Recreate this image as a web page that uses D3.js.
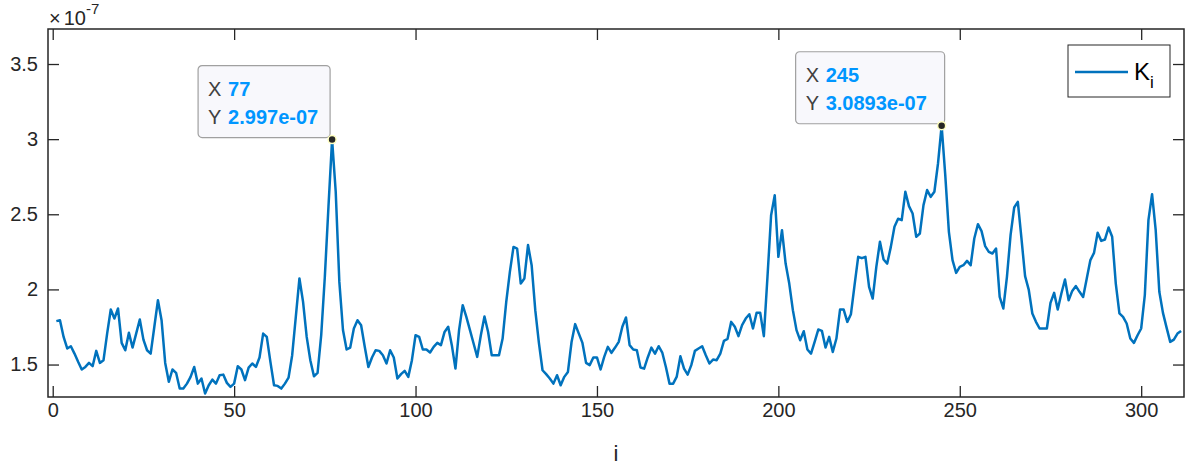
<!DOCTYPE html>
<html>
<head>
<meta charset="utf-8">
<script src="https://cdn.jsdelivr.net/npm/d3@7"></script>
<style>
  body { margin: 0; background: #fff; }
  text { font-family: "Liberation Sans", Arial, Helvetica, sans-serif; }
</style>
</head>
<body>
<svg id="chart" width="1192" height="468"></svg>
<script>
// K_i values, in units of 1e-7, for i = 1..311
const values = [
  1.789, 1.795, 1.684, 1.607, 1.622, 1.573, 1.518, 1.467, 1.484, 1.511,
  1.489, 1.591, 1.511, 1.529, 1.706, 1.866, 1.806, 1.873, 1.644, 1.595,
  1.711, 1.613, 1.706, 1.800, 1.666, 1.595, 1.573, 1.750, 1.928, 1.795,
  1.511, 1.385, 1.467, 1.445, 1.340, 1.340, 1.373, 1.418, 1.484, 1.373,
  1.407, 1.307, 1.362, 1.400, 1.373, 1.429, 1.433, 1.378, 1.351, 1.373,
  1.489, 1.467, 1.396, 1.480, 1.507, 1.484, 1.547, 1.706, 1.684, 1.518,
  1.362, 1.358, 1.340, 1.373, 1.413, 1.562, 1.817, 2.073, 1.917, 1.684,
  1.529, 1.422, 1.445, 1.695, 2.084, 2.550, 2.997, 2.650, 2.050, 1.730,
  1.600, 1.613, 1.740, 1.795, 1.762, 1.618, 1.484, 1.547, 1.595, 1.591,
  1.562, 1.507, 1.595, 1.547, 1.407, 1.436, 1.458, 1.418, 1.529, 1.695,
  1.684, 1.600, 1.600, 1.580, 1.618, 1.644, 1.629, 1.717, 1.751, 1.629,
  1.473, 1.729, 1.895, 1.817, 1.729, 1.640, 1.551, 1.695, 1.820, 1.717,
  1.562, 1.562, 1.562, 1.673, 1.917, 2.117, 2.283, 2.272, 2.039, 2.073,
  2.295, 2.161, 1.862, 1.644, 1.462, 1.436, 1.407, 1.373, 1.429, 1.362,
  1.418, 1.451, 1.650, 1.769, 1.706, 1.644, 1.511, 1.496, 1.547, 1.547,
  1.467, 1.551, 1.618, 1.578, 1.613, 1.651, 1.751, 1.813, 1.629, 1.600,
  1.595, 1.480, 1.473, 1.547, 1.613, 1.573, 1.622, 1.580, 1.484, 1.373,
  1.373, 1.420, 1.555, 1.473, 1.433, 1.496, 1.591, 1.607, 1.622, 1.562,
  1.507, 1.533, 1.529, 1.573, 1.658, 1.671, 1.784, 1.751, 1.689, 1.762,
  1.806, 1.835, 1.740, 1.844, 1.844, 1.689, 2.084, 2.494, 2.627, 2.217,
  2.394, 2.172, 2.039, 1.862, 1.729, 1.662, 1.722, 1.600, 1.573, 1.651,
  1.733, 1.724, 1.613, 1.684, 1.584, 1.673, 1.866, 1.866, 1.784, 1.835,
  2.028, 2.217, 2.208, 2.217, 2.017, 1.939, 2.150, 2.317, 2.199, 2.172,
  2.283, 2.417, 2.470, 2.461, 2.650, 2.554, 2.505, 2.350, 2.372, 2.561,
  2.661, 2.616, 2.650, 2.838, 3.0893, 2.760, 2.383, 2.195, 2.110, 2.150,
  2.161, 2.190, 2.161, 2.339, 2.434, 2.388, 2.288, 2.250, 2.239, 2.272,
  1.950, 1.873, 2.084, 2.361, 2.545, 2.583, 2.339, 2.088, 1.999, 1.840,
  1.784, 1.740, 1.740, 1.740, 1.910, 1.977, 1.866, 1.973, 2.066, 1.928,
  1.990, 2.022, 1.984, 1.950, 2.073, 2.195, 2.243, 2.377, 2.323, 2.332,
  2.412, 2.350, 2.039, 1.840, 1.817, 1.773, 1.673, 1.644, 1.695, 1.740,
  1.962, 2.461, 2.634, 2.394, 1.984, 1.844, 1.746, 1.651, 1.666, 1.706,
  1.724
];
const indices = values.map((v, k) => k + 1);

const xTicks = [0, 50, 100, 150, 200, 250, 300];
const yTicks = [1.5, 2, 2.5, 3, 3.5];
const yTickLabels = ['1.5', '2', '2.5', '3', '3.5'];

// data tips shown on the chart
const tipIndex = [77, 245];
const tipYLabels = ['2.997e-07', '3.0893e-07'];

const config = {
  axisColor: '#262626',
  lineColor: '#0072BD',
  tipValueColor: '#0096FF',
  tickLength: 11,
  fontSize: 20,
  tip: {
    width: [132, 149],
    offsetX: [-134, -146],
    height: 72,
    offsetY: -74,
  },
};

const svg = d3.select('#chart');

const x = d3.scaleLinear().domain([-1.3, 311.8]).range([48, 1184]);
const y = d3.scaleLinear().domain([1.284, 3.733]).range([397, 29]);

const [x0, x1] = x.range();
const [y0, y1] = y.range();

// data line
const line = d3.line()
  .x((d, k) => x(indices[k]))
  .y(d => y(d));

svg.append('path')
  .datum(values)
  .attr('d', line)
  .attr('fill', 'none')
  .attr('stroke', config.lineColor)
  .attr('stroke-width', 2.5)
  .attr('stroke-linejoin', 'round');

// axes (ticks inside, box on)
const axisB = d3.axisBottom(x).tickValues(xTicks).tickSizeInner(-config.tickLength).tickSizeOuter(0).tickPadding(6);
const axisT = d3.axisTop(x).tickValues(xTicks).tickSizeInner(-config.tickLength).tickSizeOuter(0).tickFormat('');
const axisL = d3.axisLeft(y).tickValues(yTicks).tickSizeInner(-config.tickLength).tickSizeOuter(0).tickPadding(10)
  .tickFormat((d, k) => yTickLabels[k]);
const axisR = d3.axisRight(y).tickValues(yTicks).tickSizeInner(-config.tickLength).tickSizeOuter(0).tickFormat('');

const styleAxis = g => {
  g.select('.domain').remove();
  g.selectAll('line').attr('stroke', config.axisColor).attr('stroke-width', 1.3);
  g.selectAll('text')
    .attr('fill', config.axisColor)
    .attr('font-size', config.fontSize)
    .style('font-family', '"Liberation Sans", Arial, sans-serif');
};

svg.append('g').attr('transform', `translate(0,${y0})`).call(axisB).call(styleAxis);
svg.append('g').attr('transform', `translate(0,${y1})`).call(axisT).call(styleAxis);
svg.append('g').attr('transform', `translate(${x0},0)`).call(axisL).call(styleAxis);
svg.append('g').attr('transform', `translate(${x1},0)`).call(axisR).call(styleAxis);

// box
svg.append('rect')
  .attr('x', x0).attr('y', y1)
  .attr('width', x1 - x0).attr('height', y0 - y1)
  .attr('fill', 'none')
  .attr('stroke', config.axisColor)
  .attr('stroke-width', 1.5);

// exponent label
const expo = svg.append('text')
  .attr('x', x0 + 1).attr('y', 25)
  .attr('fill', config.axisColor)
  .attr('font-size', config.fontSize);
expo.append('tspan').text('\u00d7');
expo.append('tspan').attr('dx', 3).text('10');
expo.append('tspan').attr('dy', -11).attr('font-size', 15).text('-7');

// x label
svg.append('text')
  .attr('x', (x0 + x1) / 2).attr('y', 461)
  .attr('text-anchor', 'middle')
  .attr('fill', config.axisColor)
  .attr('font-size', 22)
  .text('i');

// legend
const legend = svg.append('g').attr('transform', 'translate(1068,45)');
legend.append('rect')
  .attr('width', 102).attr('height', 52)
  .attr('fill', '#fff')
  .attr('stroke', config.axisColor)
  .attr('stroke-width', 1);
legend.append('line')
  .attr('x1', 7).attr('x2', 60).attr('y1', 27).attr('y2', 27)
  .attr('stroke', config.lineColor).attr('stroke-width', 2.5);
const lt = legend.append('text')
  .attr('x', 66).attr('y', 35)
  .attr('fill', '#000')
  .attr('font-size', 24);
lt.append('tspan').text('K');
lt.append('tspan').attr('dy', 8).attr('font-size', 17).text('i');

// data tips
tipIndex.forEach((ti, k) => {
  const px = x(ti);
  const py = y(values[ti - 1]);
  const w = config.tip.width[k];
  const h = config.tip.height;
  const g = svg.append('g')
    .attr('transform', `translate(${px + config.tip.offsetX[k]},${py + config.tip.offsetY})`);
  g.append('rect')
    .attr('width', w).attr('height', h)
    .attr('rx', 4)
    .attr('fill', '#f8f8fc')
    .attr('stroke', '#a0a0a0')
    .attr('stroke-width', 1.2);
  const rows = [['X', String(ti)], ['Y', tipYLabels[k]]];
  rows.forEach((r, j) => {
    const t = g.append('text')
      .attr('x', 10).attr('y', 30 + j * 28)
      .attr('font-size', 20);
    t.append('tspan').attr('fill', '#404040').text(r[0]);
    t.append('tspan').attr('x', 30).attr('fill', config.tipValueColor)
      .attr('font-weight', 'bold').text(r[1]);
  });
  svg.append('circle')
    .attr('cx', px).attr('cy', py).attr('r', 4)
    .attr('fill', '#262626')
    .attr('stroke', '#ffffc0')
    .attr('stroke-width', 1.5);
});
</script>
</body>
</html>
